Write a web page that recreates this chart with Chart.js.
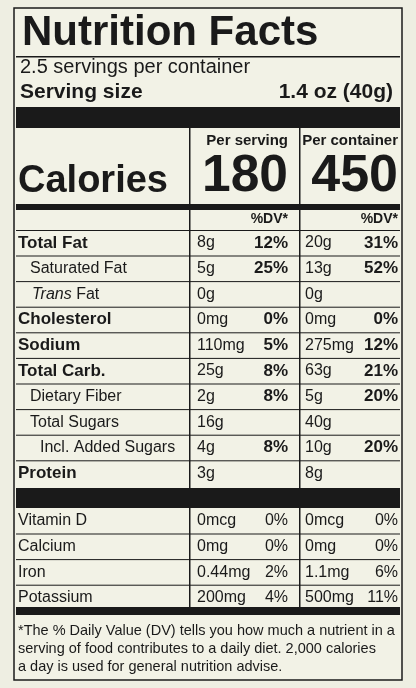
<!DOCTYPE html>
<html>
<head>
<meta charset="utf-8">
<script src="https://cdn.jsdelivr.net/npm/chart.js@4/dist/chart.umd.min.js"></script>
<style>
html,body{margin:0;padding:0;background:#eeeee2;}
#wrap{width:416px;height:688px;}
</style>
</head>
<body>
<div id="wrap"><canvas id="label"></canvas></div>
<script>
const servingsText = '2.5 servings per container';
const servingSize = '1.4 oz (40g)';
const caloriesServing = '180';
const caloriesContainer = '450';

const nutrients = ['Total Fat', 'Saturated Fat', 'Trans Fat', 'Cholesterol', 'Sodium', 'Total Carb.', 'Dietary Fiber', 'Total Sugars', 'Incl. Added Sugars', 'Protein'];
const nutrientBold = [true, false, false, true, true, true, false, false, false, true];
const nutrientIndent = [0, 1, 1, 0, 0, 0, 1, 1, 2, 0];
const amountServing = ['8g', '5g', '0g', '0mg', '110mg', '25g', '2g', '16g', '4g', '3g'];
const dvServing = ['12%', '25%', '', '0%', '5%', '8%', '8%', '', '8%', ''];
const amountContainer = ['20g', '13g', '0g', '0mg', '275mg', '63g', '5g', '40g', '10g', '8g'];
const dvContainer = ['31%', '52%', '', '0%', '12%', '21%', '20%', '', '20%', ''];

const vitamins = ['Vitamin D', 'Calcium', 'Iron', 'Potassium'];
const vitServing = ['0mcg', '0mg', '0.44mg', '200mg'];
const vitDvServing = ['0%', '0%', '2%', '4%'];
const vitContainer = ['0mcg', '0mg', '1.1mg', '500mg'];
const vitDvContainer = ['0%', '0%', '6%', '11%'];

const footnote = [
  '*The % Daily Value (DV) tells you how much a nutrient in a',
  'serving of food contributes to a daily diet. 2,000 calories',
  'a day is used for general nutrition advise.'
];

const labelPlugin = {
  id: 'nutritionLabel',
  afterDraw(chart) {
    const ctx = chart.ctx;
    const sx = chart.scales.x, sy = chart.scales.y;
    const X = v => sx.getPixelForValue(v), Y = v => sy.getPixelForValue(v);
    const F = 'Liberation Sans, Arial, sans-serif';
    ctx.save();
    ctx.fillStyle = '#f2f2e6';
    ctx.fillRect(X(13), Y(7), X(403) - X(13), Y(681) - Y(7));
    ctx.fillStyle = '#1a1a1a';
    ctx.strokeStyle = '#1a1a1a';
    const rect = (x1, y1, x2, y2) => ctx.fillRect(X(x1), Y(y1), X(x2) - X(x1), Y(y2) - Y(y1));
    const text = (t, x, y, size, bold, align, maxW) => {
      ctx.font = (bold ? 'bold ' : '') + size + 'px ' + F;
      ctx.textAlign = align || 'left';
      ctx.textBaseline = 'middle';
      if (maxW) ctx.fillText(t, X(x), Y(y), maxW); else ctx.fillText(t, X(x), Y(y));
    };
    // border
    ctx.lineWidth = 1.5;
    ctx.strokeRect(X(14), Y(8), X(402) - X(14), Y(680) - Y(8));
    // header
    text('Nutrition Facts', 22, 33, 42, true, 'left', 360);
    rect(16, 56, 400, 57.5);
    text(servingsText, 20, 67, 20, false);
    text('Serving size', 20, 92, 21, true, 'left', 148);
    text(servingSize, 393, 92, 21, true, 'right');
    rect(16, 107, 400, 128);
    // calories
    text('Per serving', 288, 141, 15, true, 'right');
    text('Per container', 398, 141, 15, true, 'right');
    text('Calories', 18, 182, 38, true, 'left', 164);
    text(caloriesServing, 288, 177, 52, true, 'right', 86);
    text(caloriesContainer, 398, 177, 52, true, 'right', 92);
    rect(16, 204, 400, 210);
    text('%DV*', 288, 219, 14, true, 'right');
    text('%DV*', 398, 219, 14, true, 'right');
    // column dividers
    rect(189, 128, 190.5, 488);
    rect(299, 128, 300.5, 488);
    rect(189, 508, 190.5, 607);
    rect(299, 508, 300.5, 607);
    // nutrient rows
    const pitch = 25.6;
    rect(16, 230, 400, 231);
    nutrients.forEach((n, i) => {
      const y = 243 + i * pitch;
      const ind = [18, 30, 40][nutrientIndent[i]];
      if (n === 'Trans Fat') {
        ctx.font = 'italic 16px ' + F; ctx.textAlign = 'left'; ctx.textBaseline = 'middle';
        ctx.fillText('Trans', X(32), Y(y));
        text('Fat', 32 + ctx.measureText('Trans ').width, y, 16, false);
      } else {
        text(n, ind, y, nutrientBold[i] ? 17 : 16, nutrientBold[i], 'left', 170);
      }
      text(amountServing[i], 197, y, 16, false);
      text(dvServing[i], 288, y, 17, true, 'right');
      text(amountContainer[i], 305, y, 16, false);
      text(dvContainer[i], 398, y, 17, true, 'right');
      if (i < nutrients.length - 1) rect(16, y + 12.5, 400, y + 13.5);
    });
    rect(16, 488, 400, 508);
    vitamins.forEach((v, i) => {
      const y = 521 + i * pitch;
      text(v, 18, y, 16, false);
      text(vitServing[i], 197, y, 16, false);
      text(vitDvServing[i], 288, y, 16, false, 'right');
      text(vitContainer[i], 305, y, 16, false);
      text(vitDvContainer[i], 398, y, 16, false, 'right');
      if (i < vitamins.length - 1) rect(16, y + 12.5, 400, y + 13.5);
    });
    rect(16, 607, 400, 615);
    footnote.forEach((l, i) => text(l, 18, 631 + i * 18, 14.5, false, 'left', 380));
    ctx.restore();
  }
};

new Chart(document.getElementById('label'), {
  type: 'scatter',
  data: { datasets: [{ data: [] }] },
  options: {
    responsive: true,
    maintainAspectRatio: false,
    animation: false,
    layout: { padding: 0 },
    plugins: { legend: { display: false }, tooltip: { enabled: false } },
    scales: {
      x: { type: 'linear', min: 0, max: 416, display: false },
      y: { type: 'linear', min: 0, max: 688, reverse: true, display: false }
    }
  },
  plugins: [labelPlugin]
});
</script>
</body>
</html>
